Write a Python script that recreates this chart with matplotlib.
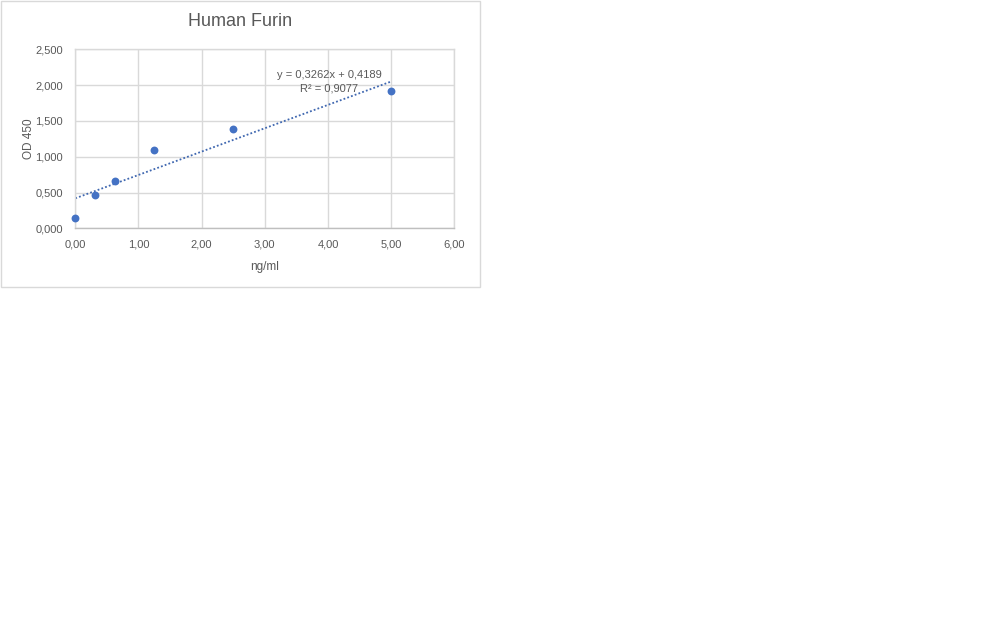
import numpy as np
import matplotlib
matplotlib.use("Agg")
import matplotlib.pyplot as plt
from matplotlib.patches import Rectangle
from matplotlib.ticker import FuncFormatter

# Standard curve readings
conc_ng_ml = [0.0, 0.3125, 0.625, 1.25, 2.5, 5.0]
od_450 = [0.14, 0.46, 0.665, 1.09, 1.383, 1.913]

# Excel linear trendline as printed on the chart
slope = 0.3262
intercept = 0.4189
r_squared = 0.9077

x_ticks = [0, 1, 2, 3, 4, 5, 6]
y_ticks = [0, 0.5, 1.0, 1.5, 2.0, 2.5]

W, H = 1008, 630
text_grey = '#595959'
grid_grey = '#d9d9d9'
blue = '#4472c4'

plt.rcParams['font.family'] = ['Liberation Sans', 'DejaVu Sans']

fig = plt.figure(figsize=(W / 100, H / 100), dpi=100)
fig.patch.set_facecolor('white')

# chart frame (Excel chart area border)
fig.patches.append(Rectangle((0.5 / W, 1 - 287.5 / H), 479 / W, 287 / H,
                             transform=fig.transFigure, fill=False,
                             edgecolor=grid_grey, linewidth=1))

left, right, top, bottom = 75.3, 454.3, 49.3, 228.3
ax = fig.add_axes([left / W, 1 - bottom / H, (right - left) / W, (bottom - top) / H])

ax.scatter(conc_ng_ml, od_450, s=32, color=blue, zorder=3, linewidths=0,
           clip_on=False)

x_fit = np.array([min(conc_ng_ml), max(conc_ng_ml)])
ax.plot(x_fit, slope * x_fit + intercept, linestyle=(0, (1, 1.2)),
        color='#3f67b0', linewidth=1.3, zorder=2)

ax.set_xlim(0, 6)
ax.set_ylim(0, 2.5)
ax.set_xticks(x_ticks)
ax.set_yticks(y_ticks)
ax.xaxis.set_major_formatter(FuncFormatter(lambda v, p: f'{v:.2f}'.replace('.', ',')))
ax.yaxis.set_major_formatter(FuncFormatter(lambda v, p: f'{v:.3f}'.replace('.', ',')))
ax.tick_params(length=0, labelsize=8, labelcolor=text_grey)
ax.tick_params(axis='y', pad=9)
ax.tick_params(axis='x', pad=8)

ax.grid(True, color=grid_grey, linewidth=1)
ax.set_axisbelow(True)
for name, sp in ax.spines.items():
    sp.set_color(grid_grey)
    sp.set_linewidth(1)
ax.spines['bottom'].set_color('#bfbfbf')

ax.set_xlabel('ng/ml', fontsize=8.5, color=text_grey, labelpad=8)
ax.set_ylabel('OD 450', fontsize=8.5, color=text_grey, labelpad=0)

eq = f'y = {slope:.4f}x + {intercept:.4f}'.replace('.', ',')
r2 = f'R² = {r_squared:.4f}'.replace('.', ',')
ax.text(4.02, 2.05, eq + '\n' + r2, ha='center', va='center',
        fontsize=8, color=text_grey, linespacing=1.5)

fig.text(240 / W, 1 - 21 / H, 'Human Furin', ha='center', va='center',
         fontsize=13, color=text_grey)

fig.savefig('out.png', dpi=100, facecolor='white')
